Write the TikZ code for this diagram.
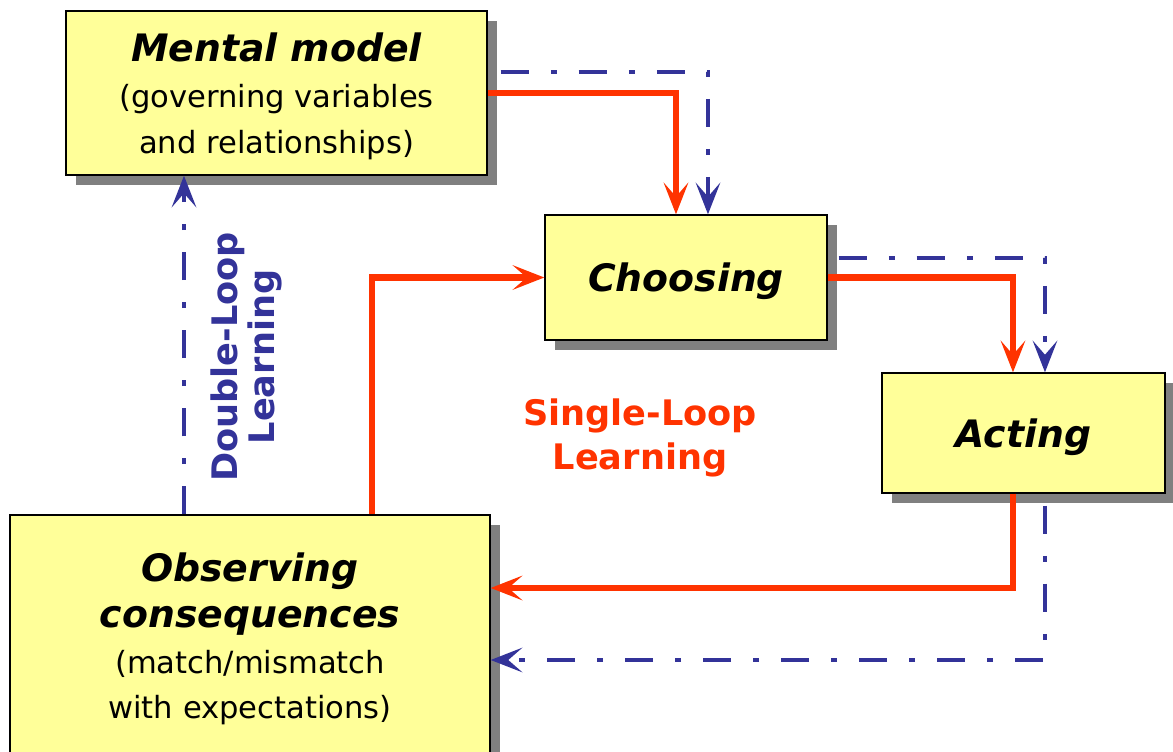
\documentclass[tikz,border=0pt]{standalone}
\usepackage{fontspec}
\setmainfont{DejaVu Sans}
\usetikzlibrary{arrows.meta,shadows}
\definecolor{loopred}{RGB}{255,51,0}
\definecolor{loopblue}{RGB}{51,51,153}
\definecolor{boxyellow}{RGB}{255,255,153}
\definecolor{shadowgray}{RGB}{128,128,128}
\newcommand\boxtitle[1]{{\fontsize{21.5}{28}\selectfont\bfseries\itshape #1}}

\begin{document}
\begin{tikzpicture}[scale=0.2,
  box/.style={draw=black,line width=0.8pt,fill=boxyellow,align=center,inner sep=0pt,
    text depth=0pt,
    drop shadow={shadow xshift=2mm,shadow yshift=-2mm,fill=shadowgray,opacity=1},
    font=\fontsize{17.4}{26}\selectfont},
  singleloop/.style={draw=loopred,line width=3.6pt,
    -{Stealth[length=18pt,width=14pt,inset=8pt]}},
  doubleloop/.style={draw=loopblue,line width=2pt,
    dash pattern=on 16pt off 12.5pt on 3.4pt off 12.5pt,
    -{Stealth[length=18pt,width=14pt,inset=8pt]}}]
\useasboundingbox (0,0) rectangle (117.3,75.1);

\node[box,minimum width=8.42cm,minimum height=3.28cm] (mental) at (27.65,65.8)
  {\boxtitle{Mental model}\\(governing variables\\and relationships)};
\node[box,minimum width=5.64cm,minimum height=2.5cm] (choosing) at (68.6,47.35)
  {\boxtitle{Choosing}};
\node[box,minimum width=5.66cm,minimum height=2.4cm] (acting) at (102.35,31.8)
  {\boxtitle{Acting}};
\node[box,minimum width=9.6cm,minimum height=4.84cm] (observing) at (25,11.5)
  {\boxtitle{Observing}\\\boxtitle{consequences}\\(match/mismatch\\with expectations)};

\coordinate (slx) at (37.2,0);
\coordinate (dlx) at (18.4,0);
\coordinate (redlow) at (0,16.3);
\coordinate (bluelow) at (0,9.1);

% single loop
\draw[singleloop] (mental.east) -| ([xshift=-1cm]choosing.north);
\draw[singleloop] (choosing.east) -| ([xshift=-1.05cm]acting.north);
\draw[singleloop] ([xshift=-1.05cm]acting.south) |- (observing.east |- redlow);
\draw[singleloop] (observing.north -| slx) |- (choosing.west);

% double loop
\draw[doubleloop] ([shift={(1.3,2.1)}]mental.east) -| ([xshift=2.2cm]choosing.north);
\draw[doubleloop] ([shift={(1.1,1.95)}]choosing.east) -| ([xshift=2.15cm]acting.north);
\draw[doubleloop] ([shift={(2.15,-1.2)}]acting.south) |- (observing.east |- bluelow);
\draw[doubleloop] (observing.north -| dlx) -- (mental.south -| dlx);

\node[text=loopred,font=\fontsize{20}{25}\selectfont\bfseries,align=center]
  (singlelabel) at (64,31.35) {Single-Loop\\Learning};
\node[text=loopblue,font=\fontsize{20}{21}\selectfont\bfseries,align=center,rotate=90]
  (doublelabel) at (24.65,39.4) {Double-Loop\\Learning};
\end{tikzpicture}
\end{document}
